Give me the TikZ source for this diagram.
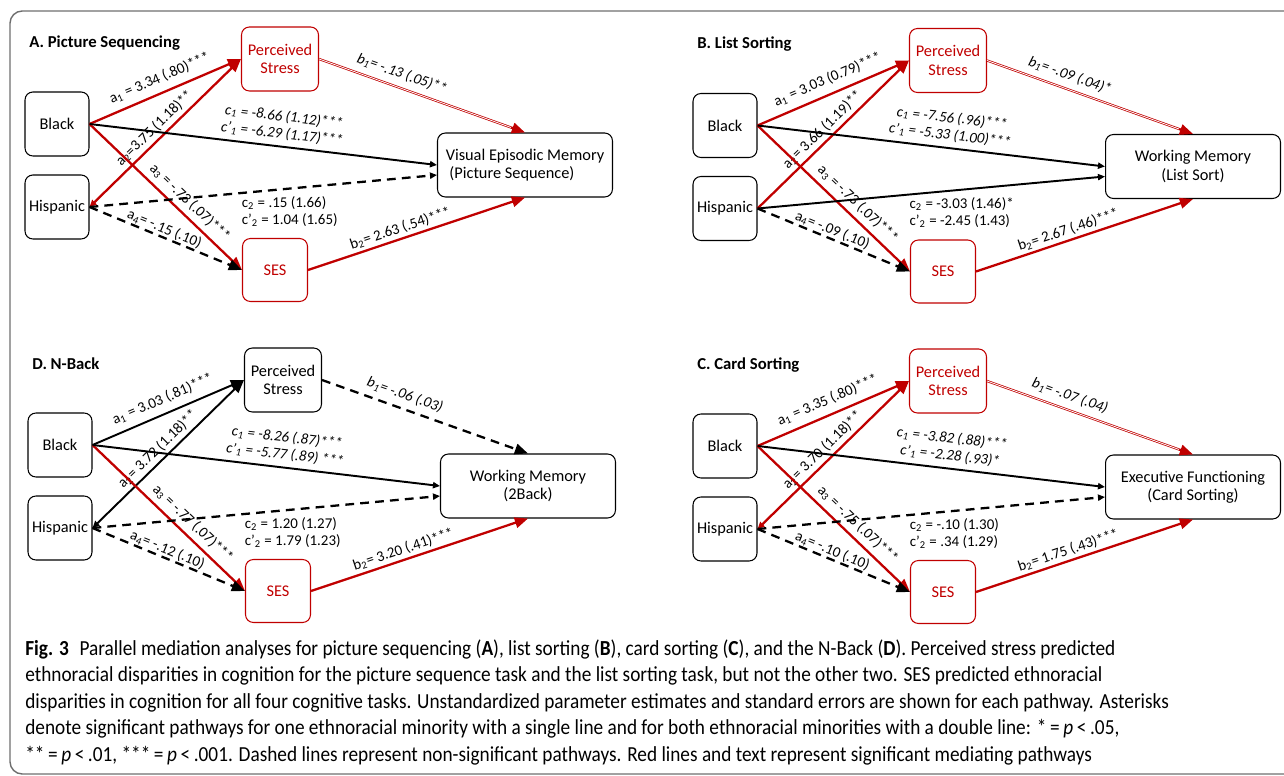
\documentclass[tikz,border=0pt]{standalone}
\usepackage{fontspec}
\setmainfont{Carlito}
\newfontfamily\capfont[FakeStretch=0.9]{Carlito}
\usetikzlibrary{arrows.meta}
\usetikzlibrary{calc}
\definecolor{sigred}{RGB}{192,0,0}
\definecolor{framegray}{RGB}{110,110,110}

\tikzset{
  var/.style={draw, rounded corners=4.5pt, line width=0.6pt, align=center,
    font=\fontsize{9.3}{10.5}\selectfont, inner sep=1pt},
  race/.style={var, minimum width=1.28cm, minimum height=1.28cm},
  stress/.style={var, minimum width=1.54cm, minimum height=1.28cm},
  ses/.style={var, minimum width=1.3cm, minimum height=1.26cm},
  outcome/.style={var, minimum width=3.5cm, minimum height=1.28cm},
  sig/.style={draw=sigred, text=sigred},
  paneltitle/.style={font=\fontsize{9.5}{11}\selectfont\bfseries, anchor=west, inner sep=0pt},
  lab/.style={font=\fontsize{8.5}{9.8}\selectfont, inner sep=1pt, sloped},
  ilab/.style={lab, font=\fontsize{8.5}{9.8}\selectfont\itshape, align=center},
  c2lab/.style={font=\fontsize{8.5}{9.8}\selectfont, anchor=north west, align=left, inner sep=1pt},
  bighead/.style={arrows={-Triangle[length=7.5pt,width=6pt]}},
  smallhead/.style={arrows={-Triangle[length=4pt,width=3.5pt]}},
  twoheads/.style={arrows={Triangle[length=4pt,width=3.5pt]-Triangle[length=7.5pt,width=6pt]}},
  pathblk/.style={draw=black, line width=1.1pt},
  pathred/.style={draw=sigred, line width=1.3pt},
  pathdash/.style={draw=black, line width=1.3pt, dash pattern=on 5pt off 3.5pt},
  pathdbl/.style={pathred, postaction={draw=white, line width=0.45pt, -, shorten >=8.5pt}}
}

\begin{document}
\begin{tikzpicture}[x=0.02cm, y=-0.02cm]
\useasboundingbox (0,0) rectangle (1284,776);
\draw[framegray, line width=0.8pt, rounded corners=7pt] (1284,11) -- (10,11) -- (10,774) -- (1284,774);

% A. Picture Sequencing
\begin{scope}
  \node[paneltitle] (titleA) at (29,43) {A. Picture Sequencing};
  \node[race] (blackA) at (57,124) {Black};
  \node[race] (hispA) at (57,207) {Hispanic};
  \node[stress,sig] (stressA) at (280,59) {Perceived\\Stress};
  \node[ses,sig] (sesA) at (275,270) {SES};
  \node[outcome,align=left] (outA) at (525,165) {Visual Episodic Memory\\\ (Picture Sequence)};
  \coordinate (endA) at ($(outA.west)+(0,10)$);
  \draw[pathred,bighead] (blackA.east) -- (stressA.west)
    node[lab,pos=0.5,above=3pt] {a\textsubscript{1} = 3.34 (.80)***};
  \draw[pathred,twoheads] (hispA.east) -- (stressA.west)
    node[lab,pos=0.48,above=1pt] {a\textsubscript{2}=3.75 (1.18)**};
  \draw[pathred,bighead] (blackA.east) -- (sesA.west)
    node[lab,pos=0.6,above=2pt] {a\textsubscript{3} = -.73 (.07)***};
  \draw[pathdash,bighead] (hispA.east) -- (sesA.west)
    node[lab,pos=0.47,above=-0.5pt] {a\textsubscript{4}= -.15 (.10)};
  \draw[pathblk,smallhead] (blackA.east) -- (outA.west)
    node[ilab,pos=0.55,above=2pt] {c\textsubscript{1} = -8.66 (1.12)***\\c’\textsubscript{1} = -6.29 (1.17)***};
  \draw[pathdash,smallhead] (hispA.east) -- (endA)
    node[c2lab,pos=0.43] {c\textsubscript{2} = .15 (1.66)\\c’\textsubscript{2} = 1.04 (1.65)};
  \draw[pathdbl,bighead] (stressA.east) -- (outA.north)
    node[ilab,pos=0.38,above=2.5pt] {b\textsubscript{1}= -.13 (.05)**};
  \draw[pathred,bighead] (sesA.east) -- (outA.south)
    node[lab,pos=0.44,above=0.5pt] {b\textsubscript{2}= 2.63 (.54)***};
\end{scope}

% B. List Sorting
\begin{scope}[shift={(668,1.5)}]
  \node[paneltitle] (titleB) at (29,43) {B. List Sorting};
  \node[race] (blackB) at (57,124) {Black};
  \node[race] (hispB) at (57,207) {Hispanic};
  \node[stress,sig] (stressB) at (280,59) {Perceived\\Stress};
  \node[ses,sig] (sesB) at (275,270) {SES};
  \node[outcome] (outB) at (525,165) {Working Memory\\(List Sort)};
  \coordinate (endB) at ($(outB.west)+(0,10)$);
  \draw[pathred,bighead] (blackB.east) -- (stressB.west)
    node[lab,pos=0.5,above=3pt] {a\textsubscript{1} = 3.03 (0.79)***};
  \draw[pathred,bighead] (hispB.east) -- (stressB.west)
    node[lab,pos=0.48,above=1pt] {a\textsubscript{2}= 3.66 (1.19)**};
  \draw[pathred,bighead] (blackB.east) -- (sesB.west)
    node[lab,pos=0.6,above=2pt] {a\textsubscript{3} = -.73 (.07)***};
  \draw[pathdash,bighead] (hispB.east) -- (sesB.west)
    node[lab,pos=0.47,above=-0.5pt] {a\textsubscript{4}= -.09 (.10)};
  \draw[pathblk,smallhead] (blackB.east) -- (outB.west)
    node[ilab,pos=0.55,above=2pt] {c\textsubscript{1} = -7.56 (.96)***\\c’\textsubscript{1} = -5.33 (1.00)***};
  \draw[pathblk,smallhead] (hispB.east) -- (endB)
    node[c2lab,pos=0.43] {c\textsubscript{2} = -3.03 (1.46)*\\c’\textsubscript{2} = -2.45 (1.43)};
  \draw[pathdbl,bighead] (stressB.east) -- (outB.north)
    node[ilab,pos=0.38,above=2.5pt] {b\textsubscript{1}= -.09 (.04)*};
  \draw[pathred,bighead] (sesB.east) -- (outB.south)
    node[lab,pos=0.44,above=0.5pt] {b\textsubscript{2}= 2.67 (.46)***};
\end{scope}

% D. N-Back
\begin{scope}[shift={(3,321)}]
  \node[paneltitle] (titleD) at (29,43) {D. N-Back};
  \node[race] (blackD) at (57,124) {Black};
  \node[race] (hispD) at (57,207) {Hispanic};
  \node[stress] (stressD) at (280,59) {Perceived\\Stress};
  \node[ses,sig] (sesD) at (275,270) {SES};
  \node[outcome] (outD) at (525,165) {Working Memory\\(2Back)};
  \coordinate (endD) at ($(outD.west)+(0,10)$);
  \draw[pathblk,bighead] (blackD.east) -- (stressD.west)
    node[lab,pos=0.5,above=3pt] {a\textsubscript{1} = 3.03 (.81)***};
  \draw[pathblk,twoheads] (hispD.east) -- (stressD.west)
    node[lab,pos=0.48,above=1pt] {a\textsubscript{2}= 3.72 (1.18)**};
  \draw[pathred,bighead] (blackD.east) -- (sesD.west)
    node[lab,pos=0.6,above=2pt] {a\textsubscript{3} = -.77 (.07)***};
  \draw[pathdash,bighead] (hispD.east) -- (sesD.west)
    node[lab,pos=0.47,above=-0.5pt] {a\textsubscript{4}= -.12 (.10)};
  \draw[pathblk,smallhead] (blackD.east) -- (outD.west)
    node[ilab,pos=0.55,above=2pt] {c\textsubscript{1} = -8.26 (.87)***\\c’\textsubscript{1} = -5.77 (.89) ***};
  \draw[pathdash,smallhead] (hispD.east) -- (endD)
    node[c2lab,pos=0.43] {c\textsubscript{2} = 1.20 (1.27)\\c’\textsubscript{2} = 1.79 (1.23)};
  \draw[pathdash,bighead] (stressD.east) -- (outD.north)
    node[ilab,pos=0.38,above=2.5pt] {b\textsubscript{1}= -.06 (.03)};
  \draw[pathred,bighead] (sesD.east) -- (outD.south)
    node[lab,pos=0.44,above=0.5pt] {b\textsubscript{2}= 3.20 (.41)***};
\end{scope}

% C. Card Sorting
\begin{scope}[shift={(668,322)}]
  \node[paneltitle] (titleC) at (29,43) {C. Card Sorting};
  \node[race] (blackC) at (57,124) {Black};
  \node[race] (hispC) at (57,207) {Hispanic};
  \node[stress,sig] (stressC) at (280,59) {Perceived\\Stress};
  \node[ses,sig] (sesC) at (275,270) {SES};
  \node[outcome] (outC) at (525,165) {Executive Functioning\\(Card Sorting)};
  \coordinate (endC) at ($(outC.west)+(0,10)$);
  \draw[pathred,bighead] (blackC.east) -- (stressC.west)
    node[lab,pos=0.5,above=3pt] {a\textsubscript{1} = 3.35 (.80)***};
  \draw[pathred,twoheads] (hispC.east) -- (stressC.west)
    node[lab,pos=0.48,above=1pt] {a\textsubscript{2}= 3.70 (1.18)**};
  \draw[pathred,bighead] (blackC.east) -- (sesC.west)
    node[lab,pos=0.6,above=2pt] {a\textsubscript{3} = -.75 (.07)***};
  \draw[pathdash,bighead] (hispC.east) -- (sesC.west)
    node[lab,pos=0.47,above=-0.5pt] {a\textsubscript{4}= -.10 (.10)};
  \draw[pathblk,smallhead] (blackC.east) -- (outC.west)
    node[ilab,pos=0.55,above=2pt] {c\textsubscript{1} = -3.82 (.88)***\\c’\textsubscript{1} = -2.28 (.93)*};
  \draw[pathdash,smallhead] (hispC.east) -- (endC)
    node[c2lab,pos=0.43] {c\textsubscript{2} = -.10 (1.30)\\c’\textsubscript{2} = .34 (1.29)};
  \draw[pathdbl,bighead] (stressC.east) -- (outC.north)
    node[ilab,pos=0.38,above=2.5pt] {b\textsubscript{1}= -.07 (.04)};
  \draw[pathred,bighead] (sesC.east) -- (outC.south)
    node[lab,pos=0.44,above=0.5pt] {b\textsubscript{2}= 1.75 (.43)***};
\end{scope}

% caption
\node[anchor=north west, inner sep=0pt, align=left,
  font=\capfont\fontsize{12.2}{15.1}\selectfont] (caption) at (25,639)
  {\textbf{Fig. 3}\hspace{0.5em}Parallel mediation analyses for picture sequencing (\textbf{A}), list sorting (\textbf{B}), card sorting (\textbf{C}), and the N-Back (\textbf{D}). Perceived stress predicted\\
   ethnoracial disparities in cognition for the picture sequence task and the list sorting task, but not the other two. SES predicted ethnoracial\\
   disparities in cognition for all four cognitive tasks. Unstandardized parameter estimates and standard errors are shown for each pathway. Asterisks\\
   denote significant pathways for one ethnoracial minority with a single line and for both ethnoracial minorities with a double line: *\,=\,\textit{p}\,<\,.05,\\
   **\,=\,\textit{p}\,<\,.01, ***\,=\,\textit{p}\,<\,.001. Dashed lines represent non-significant pathways. Red lines and text represent significant mediating pathways};
\end{tikzpicture}
\end{document}
